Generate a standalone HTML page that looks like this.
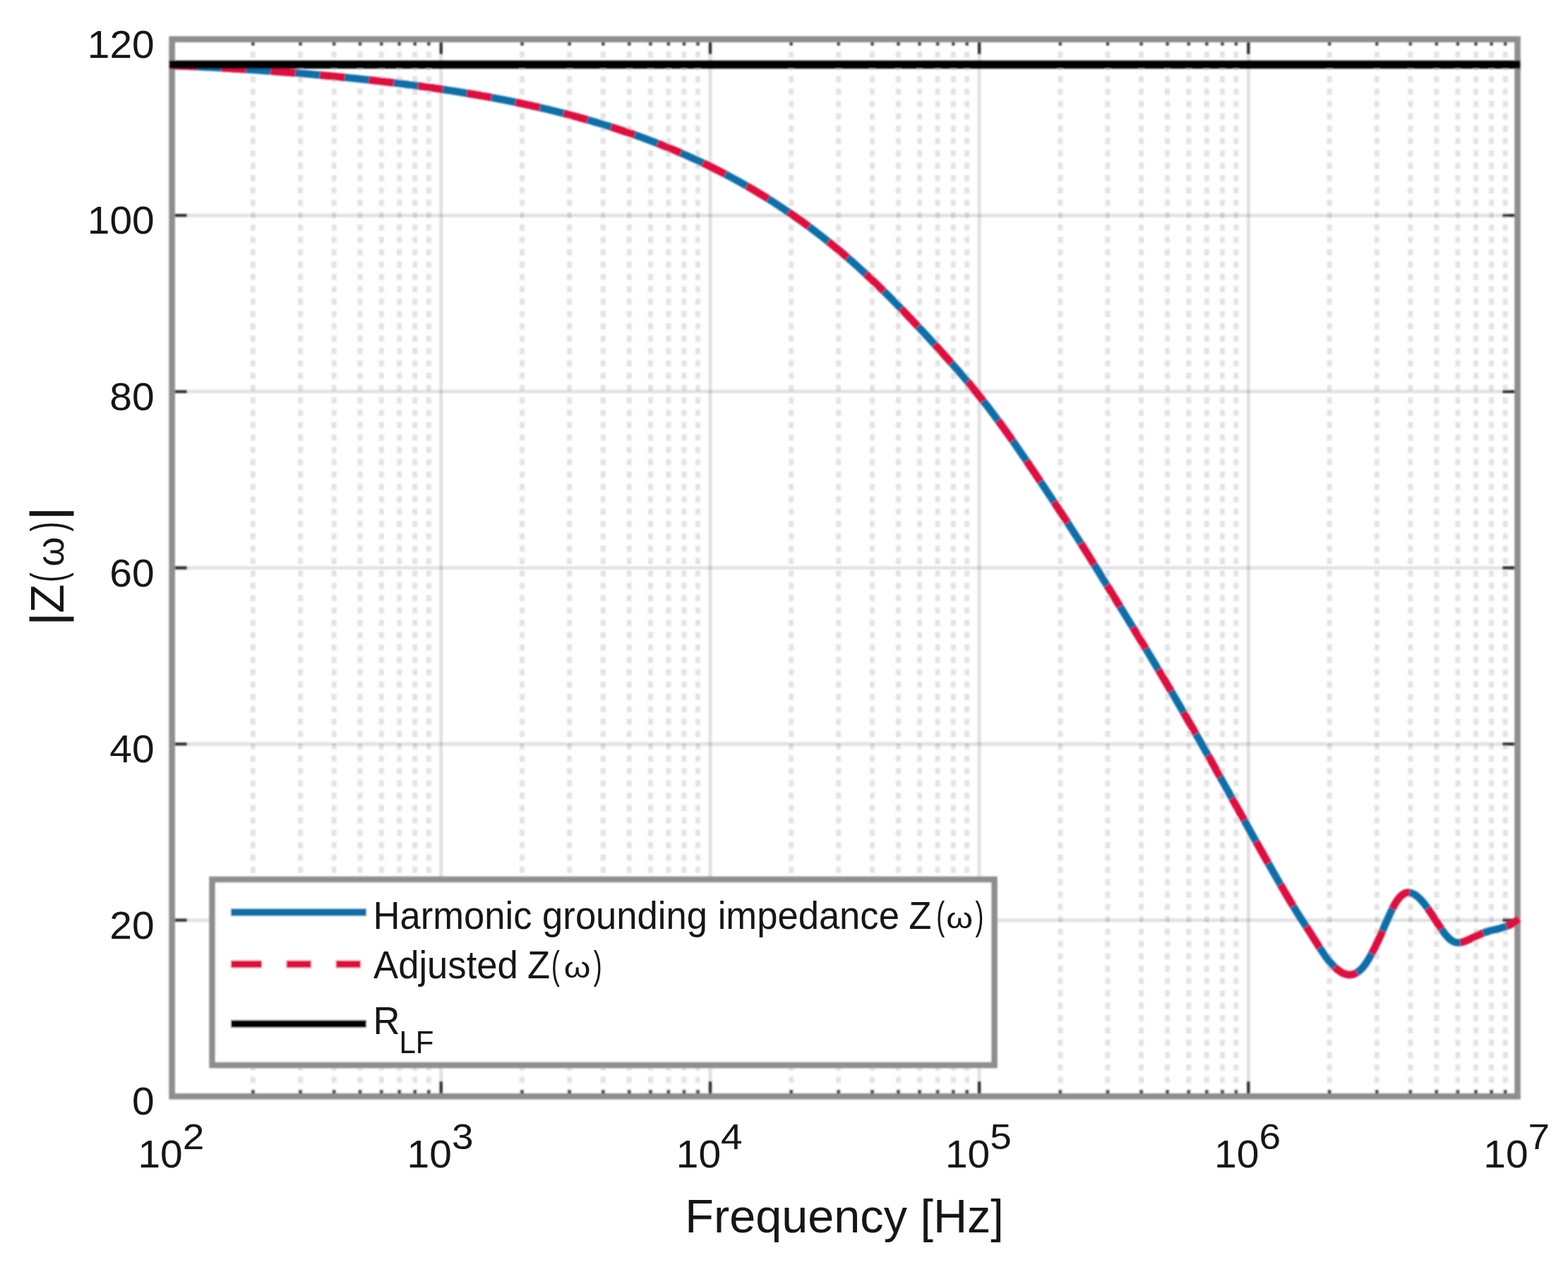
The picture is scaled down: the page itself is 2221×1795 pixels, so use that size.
<!DOCTYPE html><html><head><meta charset="utf-8"><title>|Z(ω)| vs frequency</title><style>html,body{margin:0;padding:0;background:#fff;overflow:hidden}svg{display:block}text{font-family:"Liberation Sans",Arial,sans-serif;fill:#141414}</style></head><body>
<svg width="2221" height="1795" viewBox="0 0 2221 1795">
<defs><filter id="soft" filterUnits="userSpaceOnUse" x="0" y="0" width="2221" height="1795"><feGaussianBlur stdDeviation="1.2"/></filter><filter id="softt" filterUnits="userSpaceOnUse" x="0" y="0" width="2221" height="1795"><feGaussianBlur stdDeviation="0.5"/></filter>
<clipPath id="c"><rect x="239.6" y="51.6" width="1913.9" height="1505.7"/></clipPath></defs>
<rect width="2221" height="1795" fill="#fff"/>
<g filter="url(#soft)">
<path d="M358.3 55.6V1553.3M425.5 55.6V1553.3M473.1 55.6V1553.3M510.0 55.6V1553.3M540.2 55.6V1553.3M565.7 55.6V1553.3M587.8 55.6V1553.3M607.3 55.6V1553.3M739.5 55.6V1553.3M806.6 55.6V1553.3M854.3 55.6V1553.3M891.2 55.6V1553.3M921.4 55.6V1553.3M946.9 55.6V1553.3M969.0 55.6V1553.3M988.5 55.6V1553.3M1120.7 55.6V1553.3M1187.8 55.6V1553.3M1235.5 55.6V1553.3M1272.4 55.6V1553.3M1302.6 55.6V1553.3M1328.1 55.6V1553.3M1350.2 55.6V1553.3M1369.7 55.6V1553.3M1501.9 55.6V1553.3M1569.0 55.6V1553.3M1616.6 55.6V1553.3M1653.6 55.6V1553.3M1683.8 55.6V1553.3M1709.3 55.6V1553.3M1731.4 55.6V1553.3M1750.9 55.6V1553.3M1883.1 55.6V1553.3M1950.2 55.6V1553.3M1997.8 55.6V1553.3M2034.8 55.6V1553.3M2064.9 55.6V1553.3M2090.5 55.6V1553.3M2112.6 55.6V1553.3M2132.1 55.6V1553.3" stroke="#e3e3e3" stroke-width="7" stroke-dasharray="8.6 8.9" fill="none"/>
<g stroke="#262626" stroke-opacity="0.15" stroke-width="4.6" fill="none"><path d="M624.8 55.6V1553.3"/><path d="M1006.0 55.6V1553.3"/><path d="M1387.1 55.6V1553.3"/><path d="M1768.3 55.6V1553.3"/><path d="M243.6 1303.7H2149.5"/><path d="M243.6 1054.1H2149.5"/><path d="M243.6 804.5H2149.5"/><path d="M243.6 554.8H2149.5"/><path d="M243.6 305.2H2149.5"/></g>
<rect x="243.6" y="55.6" width="1905.9" height="1497.7" fill="none" stroke="#8e8e8e" stroke-width="8.6"/>
<path d="M624.8 1549.0V1532.3M624.8 59.9V76.6M1006.0 1549.0V1532.3M1006.0 59.9V76.6M1387.1 1549.0V1532.3M1387.1 59.9V76.6M1768.3 1549.0V1532.3M1768.3 59.9V76.6M358.3 1549.0V1544.3M358.3 59.9V64.6M425.5 1549.0V1544.3M425.5 59.9V64.6M473.1 1549.0V1544.3M473.1 59.9V64.6M510.0 1549.0V1544.3M510.0 59.9V64.6M540.2 1549.0V1544.3M540.2 59.9V64.6M565.7 1549.0V1544.3M565.7 59.9V64.6M587.8 1549.0V1544.3M587.8 59.9V64.6M607.3 1549.0V1544.3M607.3 59.9V64.6M739.5 1549.0V1544.3M739.5 59.9V64.6M806.6 1549.0V1544.3M806.6 59.9V64.6M854.3 1549.0V1544.3M854.3 59.9V64.6M891.2 1549.0V1544.3M891.2 59.9V64.6M921.4 1549.0V1544.3M921.4 59.9V64.6M946.9 1549.0V1544.3M946.9 59.9V64.6M969.0 1549.0V1544.3M969.0 59.9V64.6M988.5 1549.0V1544.3M988.5 59.9V64.6M1120.7 1549.0V1544.3M1120.7 59.9V64.6M1187.8 1549.0V1544.3M1187.8 59.9V64.6M1235.5 1549.0V1544.3M1235.5 59.9V64.6M1272.4 1549.0V1544.3M1272.4 59.9V64.6M1302.6 1549.0V1544.3M1302.6 59.9V64.6M1328.1 1549.0V1544.3M1328.1 59.9V64.6M1350.2 1549.0V1544.3M1350.2 59.9V64.6M1369.7 1549.0V1544.3M1369.7 59.9V64.6M1501.9 1549.0V1544.3M1501.9 59.9V64.6M1569.0 1549.0V1544.3M1569.0 59.9V64.6M1616.6 1549.0V1544.3M1616.6 59.9V64.6M1653.6 1549.0V1544.3M1653.6 59.9V64.6M1683.8 1549.0V1544.3M1683.8 59.9V64.6M1709.3 1549.0V1544.3M1709.3 59.9V64.6M1731.4 1549.0V1544.3M1731.4 59.9V64.6M1750.9 1549.0V1544.3M1750.9 59.9V64.6M1883.1 1549.0V1544.3M1883.1 59.9V64.6M1950.2 1549.0V1544.3M1950.2 59.9V64.6M1997.8 1549.0V1544.3M1997.8 59.9V64.6M2034.8 1549.0V1544.3M2034.8 59.9V64.6M2064.9 1549.0V1544.3M2064.9 59.9V64.6M2090.5 1549.0V1544.3M2090.5 59.9V64.6M2112.6 1549.0V1544.3M2112.6 59.9V64.6M2132.1 1549.0V1544.3M2132.1 59.9V64.6M247.9 1303.7H264.6M2145.2 1303.7H2128.5M247.9 1054.1H264.6M2145.2 1054.1H2128.5M247.9 804.5H264.6M2145.2 804.5H2128.5M247.9 554.8H264.6M2145.2 554.8H2128.5M247.9 305.2H264.6M2145.2 305.2H2128.5" stroke="#333" stroke-width="4.3" fill="none"/>
<g clip-path="url(#c)" fill="none" stroke-width="10.5">
<path d="M243.6,92.8 L246.6,92.9 L249.6,93.0 L252.6,93.2 L255.6,93.3 L258.6,93.4 L261.6,93.6 L264.6,93.7 L267.6,93.8 L270.6,94.0 L273.6,94.1 L276.6,94.3 L279.6,94.4 L282.6,94.5 L285.6,94.7 L288.6,94.9 L291.6,95.0 L294.6,95.2 L297.6,95.3 L300.6,95.5 L303.6,95.6 L306.6,95.8 L309.6,96.0 L312.6,96.1 L315.6,96.3 L318.6,96.5 L321.6,96.7 L324.6,96.8 L327.6,97.0 L330.6,97.2 L333.6,97.4 L336.6,97.6 L339.6,97.8 L342.6,97.9 L345.6,98.1 L348.6,98.3 L351.6,98.5 L354.6,98.7 L357.6,98.9 L360.6,99.1 L363.6,99.3 L366.6,99.5 L369.6,99.7 L372.6,99.9 L375.6,100.2 L378.6,100.4 L381.6,100.6 L384.6,100.8 L387.6,101.0 L390.6,101.2 L393.6,101.5 L396.6,101.7 L399.6,101.9 L402.6,102.2 L405.6,102.4 L408.6,102.6 L411.6,102.9 L414.6,103.1 L417.6,103.3 L420.6,103.6 L423.6,103.8 L426.6,104.1 L429.6,104.3 L432.6,104.6 L435.6,104.8 L438.6,105.1 L441.6,105.3 L444.6,105.6 L447.6,105.9 L450.6,106.1 L453.6,106.4 L456.6,106.7 L459.6,106.9 L462.6,107.2 L465.6,107.5 L468.6,107.8 L471.6,108.1 L474.6,108.3 L477.6,108.6 L480.6,108.9 L483.6,109.2 L486.6,109.5 L489.6,109.8 L492.6,110.1 L495.6,110.4 L498.6,110.7 L501.6,111.0 L504.6,111.3 L507.6,111.6 L510.6,112.0 L513.6,112.3 L516.6,112.6 L519.6,112.9 L522.6,113.3 L525.6,113.6 L528.6,113.9 L531.6,114.3 L534.6,114.6 L537.6,114.9 L540.6,115.3 L543.6,115.6 L546.6,116.0 L549.6,116.3 L552.6,116.7 L555.6,117.0 L558.6,117.4 L561.6,117.8 L564.6,118.1 L567.6,118.5 L570.6,118.9 L573.6,119.3 L576.6,119.7 L579.6,120.1 L582.6,120.4 L585.6,120.8 L588.6,121.2 L591.6,121.6 L594.6,122.0 L597.6,122.4 L600.6,122.9 L603.6,123.3 L606.6,123.7 L609.6,124.1 L612.6,124.5 L615.6,125.0 L618.6,125.4 L621.6,125.9 L624.6,126.3 L627.6,126.7 L630.6,127.2 L633.6,127.7 L636.6,128.1 L639.6,128.6 L642.6,129.0 L645.6,129.5 L648.6,130.0 L651.6,130.5 L654.6,131.0 L657.6,131.5 L660.6,132.0 L663.6,132.5 L666.6,133.0 L669.6,133.5 L672.6,134.0 L675.6,134.5 L678.6,135.0 L681.6,135.6 L684.6,136.1 L687.6,136.6 L690.6,137.2 L693.6,137.7 L696.6,138.3 L699.6,138.8 L702.6,139.4 L705.6,140.0 L708.6,140.5 L711.6,141.1 L714.6,141.7 L717.6,142.3 L720.6,142.9 L723.6,143.5 L726.6,144.1 L729.6,144.7 L732.6,145.4 L735.6,146.0 L738.6,146.6 L741.6,147.3 L744.6,147.9 L747.6,148.6 L750.6,149.2 L753.6,149.9 L756.6,150.6 L759.6,151.2 L762.6,151.9 L765.6,152.6 L768.6,153.3 L771.6,154.0 L774.6,154.7 L777.6,155.4 L780.6,156.2 L783.6,156.9 L786.6,157.6 L789.6,158.4 L792.6,159.1 L795.6,159.9 L798.6,160.7 L801.6,161.4 L804.6,162.2 L807.6,163.0 L810.6,163.8 L813.6,164.6 L816.6,165.4 L819.6,166.2 L822.6,167.1 L825.6,167.9 L828.6,168.7 L831.6,169.6 L834.6,170.5 L837.6,171.3 L840.6,172.2 L843.6,173.1 L846.6,174.0 L849.6,174.9 L852.6,175.8 L855.6,176.7 L858.6,177.7 L861.6,178.6 L864.6,179.5 L867.6,180.5 L870.6,181.5 L873.6,182.4 L876.6,183.4 L879.6,184.4 L882.6,185.4 L885.6,186.4 L888.6,187.4 L891.6,188.5 L894.6,189.5 L897.6,190.6 L900.6,191.6 L903.6,192.7 L906.6,193.8 L909.6,194.9 L912.6,196.0 L915.6,197.1 L918.6,198.2 L921.6,199.3 L924.6,200.5 L927.6,201.6 L930.6,202.8 L933.6,204.0 L936.6,205.2 L939.6,206.4 L942.6,207.6 L945.6,208.8 L948.6,210.0 L951.6,211.3 L954.6,212.5 L957.6,213.8 L960.6,215.1 L963.6,216.4 L966.6,217.7 L969.6,219.0 L972.6,220.3 L975.6,221.7 L978.6,223.0 L981.6,224.4 L984.6,225.7 L987.6,227.1 L990.6,228.5 L993.6,229.9 L996.6,231.4 L999.6,232.8 L1002.6,234.3 L1005.6,235.7 L1008.6,237.2 L1011.6,238.7 L1014.6,240.2 L1017.6,241.7 L1020.6,243.3 L1023.6,244.8 L1026.6,246.4 L1029.6,248.0 L1032.6,249.6 L1035.6,251.2 L1038.6,252.8 L1041.6,254.4 L1044.6,256.1 L1047.6,257.7 L1050.6,259.4 L1053.6,261.1 L1056.6,262.8 L1059.6,264.5 L1062.6,266.3 L1065.6,268.0 L1068.6,269.8 L1071.6,271.6 L1074.6,273.4 L1077.6,275.2 L1080.6,277.0 L1083.6,278.9 L1086.6,280.7 L1089.6,282.6 L1092.6,284.5 L1095.6,286.4 L1098.6,288.4 L1101.6,290.3 L1104.6,292.3 L1107.6,294.3 L1110.6,296.3 L1113.6,298.3 L1116.6,300.3 L1119.6,302.4 L1122.6,304.5 L1125.6,306.6 L1128.6,308.7 L1131.6,310.8 L1134.6,312.9 L1137.6,315.1 L1140.6,317.3 L1143.6,319.5 L1146.6,321.7 L1149.6,324.0 L1152.6,326.2 L1155.6,328.5 L1158.6,330.8 L1161.6,333.1 L1164.6,335.4 L1167.6,337.8 L1170.6,340.2 L1173.6,342.6 L1176.6,345.0 L1179.6,347.4 L1182.6,349.9 L1185.6,352.4 L1188.6,354.9 L1191.6,357.4 L1194.6,359.9 L1197.6,362.5 L1200.6,365.1 L1203.6,367.7 L1206.6,370.3 L1209.6,373.0 L1212.6,375.7 L1215.6,378.4 L1218.6,381.1 L1221.6,383.8 L1224.6,386.6 L1227.6,389.4 L1230.6,392.2 L1233.6,395.0 L1236.6,397.8 L1239.6,400.7 L1242.6,403.6 L1245.6,406.5 L1248.6,409.4 L1251.6,412.4 L1254.6,415.3 L1257.6,418.3 L1260.6,421.3 L1263.6,424.3 L1266.6,427.4 L1269.6,430.4 L1272.6,433.5 L1275.6,436.6 L1278.6,439.7 L1281.6,442.8 L1284.6,445.9 L1287.6,449.1 L1290.6,452.2 L1293.6,455.4 L1296.6,458.6 L1299.6,461.8 L1302.6,465.0 L1305.6,468.2 L1308.6,471.4 L1311.6,474.6 L1314.6,477.9 L1317.6,481.1 L1320.6,484.4 L1323.6,487.6 L1326.6,490.9 L1329.6,494.2 L1332.6,497.5 L1335.6,500.8 L1338.6,504.2 L1341.6,507.5 L1344.6,510.9 L1347.6,514.2 L1350.6,517.6 L1353.6,521.1 L1356.6,524.5 L1359.6,528.0 L1362.6,531.4 L1365.6,534.9 L1368.6,538.5 L1371.6,542.0 L1374.6,545.6 L1377.6,549.3 L1380.6,552.9 L1383.6,556.6 L1386.6,560.4 L1389.6,564.1 L1392.6,567.9 L1395.6,571.8 L1398.6,575.6 L1401.6,579.5 L1404.6,583.5 L1407.6,587.5 L1410.6,591.5 L1413.6,595.6 L1416.6,599.6 L1419.6,603.8 L1422.6,607.9 L1425.6,612.1 L1428.6,616.3 L1431.6,620.6 L1434.6,624.8 L1437.6,629.1 L1440.6,633.5 L1443.6,637.8 L1446.6,642.2 L1449.6,646.5 L1452.6,650.9 L1455.6,655.3 L1458.6,659.8 L1461.6,664.2 L1464.6,668.7 L1467.6,673.1 L1470.6,677.6 L1473.6,682.1 L1476.6,686.6 L1479.6,691.1 L1482.6,695.6 L1485.6,700.1 L1488.6,704.6 L1491.6,709.2 L1494.6,713.7 L1497.6,718.3 L1500.6,722.8 L1503.6,727.4 L1506.6,732.0 L1509.6,736.6 L1512.6,741.2 L1515.6,745.8 L1518.6,750.5 L1521.6,755.1 L1524.6,759.8 L1527.6,764.5 L1530.6,769.2 L1533.6,773.9 L1536.6,778.7 L1539.6,783.5 L1542.6,788.2 L1545.6,793.0 L1548.6,797.9 L1551.6,802.7 L1554.6,807.6 L1557.6,812.4 L1560.6,817.3 L1563.6,822.2 L1566.6,827.0 L1569.6,831.9 L1572.6,836.8 L1575.6,841.7 L1578.6,846.6 L1581.6,851.4 L1584.6,856.3 L1587.6,861.2 L1590.6,866.1 L1593.6,871.0 L1596.6,875.8 L1599.6,880.7 L1602.6,885.6 L1605.6,890.5 L1608.6,895.4 L1611.6,900.4 L1614.6,905.3 L1617.6,910.2 L1620.6,915.2 L1623.6,920.1 L1626.6,925.1 L1629.6,930.1 L1632.6,935.0 L1635.6,940.0 L1638.6,945.1 L1641.6,950.1 L1644.6,955.1 L1647.6,960.2 L1650.6,965.2 L1653.6,970.3 L1656.6,975.4 L1659.6,980.5 L1662.6,985.6 L1665.6,990.7 L1668.6,995.9 L1671.6,1001.0 L1674.6,1006.2 L1677.6,1011.4 L1680.6,1016.6 L1683.6,1021.8 L1686.6,1027.0 L1689.6,1032.2 L1692.6,1037.5 L1695.6,1042.8 L1698.6,1048.0 L1701.6,1053.3 L1704.6,1058.6 L1707.6,1063.9 L1710.6,1069.3 L1713.6,1074.6 L1716.6,1079.9 L1719.6,1085.3 L1722.6,1090.6 L1725.6,1096.0 L1728.6,1101.4 L1731.6,1106.8 L1734.6,1112.2 L1737.6,1117.5 L1740.6,1122.9 L1743.6,1128.3 L1746.6,1133.8 L1749.6,1139.2 L1752.6,1144.6 L1755.6,1150.0 L1758.6,1155.4 L1761.6,1160.8 L1764.6,1166.2 L1767.6,1171.6 L1770.6,1177.0 L1773.6,1182.4 L1776.6,1187.8 L1779.6,1193.1 L1782.6,1198.5 L1785.6,1203.9 L1788.6,1209.2 L1791.6,1214.5 L1794.6,1219.8 L1797.6,1225.1 L1800.6,1230.4 L1803.6,1235.7 L1806.6,1240.9 L1809.6,1246.1 L1812.6,1251.3 L1815.6,1256.5 L1818.6,1261.6 L1821.6,1266.8 L1824.6,1271.8 L1827.6,1276.9 L1830.6,1281.9 L1833.6,1286.8 L1836.6,1291.7 L1839.6,1296.5 L1842.6,1301.1 L1845.6,1305.8 L1848.6,1310.3 L1851.6,1314.9 L1854.6,1319.5 L1857.6,1324.2 L1860.6,1329.0 L1863.6,1333.8 L1866.6,1338.5 L1869.6,1343.2 L1872.6,1347.7 L1875.6,1352.1 L1878.6,1356.3 L1881.6,1360.2 L1884.6,1363.9 L1887.6,1367.2 L1890.6,1370.3 L1893.6,1373.0 L1896.6,1375.3 L1899.6,1377.3 L1902.6,1378.9 L1905.6,1380.0 L1908.6,1380.7 L1911.6,1381.0 L1914.6,1380.7 L1917.6,1380.0 L1920.6,1378.7 L1923.6,1376.8 L1926.6,1374.4 L1929.6,1371.4 L1932.6,1367.7 L1935.6,1363.5 L1938.6,1358.8 L1941.6,1353.6 L1944.6,1348.0 L1947.6,1342.0 L1950.6,1335.7 L1953.6,1329.2 L1956.6,1322.5 L1959.6,1315.7 L1962.6,1308.7 L1965.6,1301.8 L1968.6,1295.1 L1971.6,1288.7 L1974.6,1282.9 L1977.6,1277.7 L1980.6,1273.4 L1983.6,1270.0 L1986.6,1267.5 L1989.6,1265.7 L1992.6,1264.8 L1995.6,1264.6 L1998.6,1265.1 L2001.6,1266.2 L2004.6,1267.8 L2007.6,1270.0 L2010.6,1272.7 L2013.6,1275.8 L2016.6,1279.3 L2019.6,1283.1 L2022.6,1287.2 L2025.6,1291.6 L2028.6,1296.1 L2031.6,1300.8 L2034.6,1305.5 L2037.6,1310.2 L2040.6,1314.7 L2043.6,1319.0 L2046.6,1323.0 L2049.6,1326.5 L2052.6,1329.6 L2055.6,1332.1 L2058.6,1333.9 L2061.6,1335.1 L2064.6,1335.5 L2067.6,1335.5 L2070.6,1335.0 L2073.6,1334.1 L2076.6,1333.0 L2079.6,1331.6 L2082.6,1330.2 L2085.6,1328.8 L2088.6,1327.3 L2091.6,1325.8 L2094.6,1324.4 L2097.6,1323.1 L2100.6,1321.9 L2103.6,1320.8 L2106.6,1319.9 L2109.6,1319.0 L2112.6,1318.2 L2115.6,1317.5 L2118.6,1316.8 L2121.6,1316.1 L2124.6,1315.3 L2127.6,1314.4 L2130.6,1313.5 L2133.6,1312.4 L2136.6,1311.1 L2139.6,1309.7 L2142.6,1308.1 L2145.6,1306.2 L2148.6,1304.0 L2151.6,1301.6" stroke="#0f6ea8"/>
<path d="M243.6,92.8 L246.6,92.9 L249.6,93.0 L252.6,93.2 L255.6,93.3 L258.6,93.4 L261.6,93.6 L264.6,93.7 L267.6,93.8 L270.6,94.0 L273.6,94.1 L276.6,94.3 L279.6,94.4 L282.6,94.5 L285.6,94.7 L288.6,94.9 L291.6,95.0 L294.6,95.2 L297.6,95.3 L300.6,95.5 L303.6,95.6 L306.6,95.8 L309.6,96.0 L312.6,96.1 L315.6,96.3 L318.6,96.5 L321.6,96.7 L324.6,96.8 L327.6,97.0 L330.6,97.2 L333.6,97.4 L336.6,97.6 L339.6,97.8 L342.6,97.9 L345.6,98.1 L348.6,98.3 L351.6,98.5 L354.6,98.7 L357.6,98.9 L360.6,99.1 L363.6,99.3 L366.6,99.5 L369.6,99.7 L372.6,99.9 L375.6,100.2 L378.6,100.4 L381.6,100.6 L384.6,100.8 L387.6,101.0 L390.6,101.2 L393.6,101.5 L396.6,101.7 L399.6,101.9 L402.6,102.2 L405.6,102.4 L408.6,102.6 L411.6,102.9 L414.6,103.1 L417.6,103.3 L420.6,103.6 L423.6,103.8 L426.6,104.1 L429.6,104.3 L432.6,104.6 L435.6,104.8 L438.6,105.1 L441.6,105.3 L444.6,105.6 L447.6,105.9 L450.6,106.1 L453.6,106.4 L456.6,106.7 L459.6,106.9 L462.6,107.2 L465.6,107.5 L468.6,107.8 L471.6,108.1 L474.6,108.3 L477.6,108.6 L480.6,108.9 L483.6,109.2 L486.6,109.5 L489.6,109.8 L492.6,110.1 L495.6,110.4 L498.6,110.7 L501.6,111.0 L504.6,111.3 L507.6,111.6 L510.6,112.0 L513.6,112.3 L516.6,112.6 L519.6,112.9 L522.6,113.3 L525.6,113.6 L528.6,113.9 L531.6,114.3 L534.6,114.6 L537.6,114.9 L540.6,115.3 L543.6,115.6 L546.6,116.0 L549.6,116.3 L552.6,116.7 L555.6,117.0 L558.6,117.4 L561.6,117.8 L564.6,118.1 L567.6,118.5 L570.6,118.9 L573.6,119.3 L576.6,119.7 L579.6,120.1 L582.6,120.4 L585.6,120.8 L588.6,121.2 L591.6,121.6 L594.6,122.0 L597.6,122.4 L600.6,122.9 L603.6,123.3 L606.6,123.7 L609.6,124.1 L612.6,124.5 L615.6,125.0 L618.6,125.4 L621.6,125.9 L624.6,126.3 L627.6,126.7 L630.6,127.2 L633.6,127.7 L636.6,128.1 L639.6,128.6 L642.6,129.0 L645.6,129.5 L648.6,130.0 L651.6,130.5 L654.6,131.0 L657.6,131.5 L660.6,132.0 L663.6,132.5 L666.6,133.0 L669.6,133.5 L672.6,134.0 L675.6,134.5 L678.6,135.0 L681.6,135.6 L684.6,136.1 L687.6,136.6 L690.6,137.2 L693.6,137.7 L696.6,138.3 L699.6,138.8 L702.6,139.4 L705.6,140.0 L708.6,140.5 L711.6,141.1 L714.6,141.7 L717.6,142.3 L720.6,142.9 L723.6,143.5 L726.6,144.1 L729.6,144.7 L732.6,145.4 L735.6,146.0 L738.6,146.6 L741.6,147.3 L744.6,147.9 L747.6,148.6 L750.6,149.2 L753.6,149.9 L756.6,150.6 L759.6,151.2 L762.6,151.9 L765.6,152.6 L768.6,153.3 L771.6,154.0 L774.6,154.7 L777.6,155.4 L780.6,156.2 L783.6,156.9 L786.6,157.6 L789.6,158.4 L792.6,159.1 L795.6,159.9 L798.6,160.7 L801.6,161.4 L804.6,162.2 L807.6,163.0 L810.6,163.8 L813.6,164.6 L816.6,165.4 L819.6,166.2 L822.6,167.1 L825.6,167.9 L828.6,168.7 L831.6,169.6 L834.6,170.5 L837.6,171.3 L840.6,172.2 L843.6,173.1 L846.6,174.0 L849.6,174.9 L852.6,175.8 L855.6,176.7 L858.6,177.7 L861.6,178.6 L864.6,179.5 L867.6,180.5 L870.6,181.5 L873.6,182.4 L876.6,183.4 L879.6,184.4 L882.6,185.4 L885.6,186.4 L888.6,187.4 L891.6,188.5 L894.6,189.5 L897.6,190.6 L900.6,191.6 L903.6,192.7 L906.6,193.8 L909.6,194.9 L912.6,196.0 L915.6,197.1 L918.6,198.2 L921.6,199.3 L924.6,200.5 L927.6,201.6 L930.6,202.8 L933.6,204.0 L936.6,205.2 L939.6,206.4 L942.6,207.6 L945.6,208.8 L948.6,210.0 L951.6,211.3 L954.6,212.5 L957.6,213.8 L960.6,215.1 L963.6,216.4 L966.6,217.7 L969.6,219.0 L972.6,220.3 L975.6,221.7 L978.6,223.0 L981.6,224.4 L984.6,225.7 L987.6,227.1 L990.6,228.5 L993.6,229.9 L996.6,231.4 L999.6,232.8 L1002.6,234.3 L1005.6,235.7 L1008.6,237.2 L1011.6,238.7 L1014.6,240.2 L1017.6,241.7 L1020.6,243.3 L1023.6,244.8 L1026.6,246.4 L1029.6,248.0 L1032.6,249.6 L1035.6,251.2 L1038.6,252.8 L1041.6,254.4 L1044.6,256.1 L1047.6,257.7 L1050.6,259.4 L1053.6,261.1 L1056.6,262.8 L1059.6,264.5 L1062.6,266.3 L1065.6,268.0 L1068.6,269.8 L1071.6,271.6 L1074.6,273.4 L1077.6,275.2 L1080.6,277.0 L1083.6,278.9 L1086.6,280.7 L1089.6,282.6 L1092.6,284.5 L1095.6,286.4 L1098.6,288.4 L1101.6,290.3 L1104.6,292.3 L1107.6,294.3 L1110.6,296.3 L1113.6,298.3 L1116.6,300.3 L1119.6,302.4 L1122.6,304.5 L1125.6,306.6 L1128.6,308.7 L1131.6,310.8 L1134.6,312.9 L1137.6,315.1 L1140.6,317.3 L1143.6,319.5 L1146.6,321.7 L1149.6,324.0 L1152.6,326.2 L1155.6,328.5 L1158.6,330.8 L1161.6,333.1 L1164.6,335.4 L1167.6,337.8 L1170.6,340.2 L1173.6,342.6 L1176.6,345.0 L1179.6,347.4 L1182.6,349.9 L1185.6,352.4 L1188.6,354.9 L1191.6,357.4 L1194.6,359.9 L1197.6,362.5 L1200.6,365.1 L1203.6,367.7 L1206.6,370.3 L1209.6,373.0 L1212.6,375.7 L1215.6,378.4 L1218.6,381.1 L1221.6,383.8 L1224.6,386.6 L1227.6,389.4 L1230.6,392.2 L1233.6,395.0 L1236.6,397.8 L1239.6,400.7 L1242.6,403.6 L1245.6,406.5 L1248.6,409.4 L1251.6,412.4 L1254.6,415.3 L1257.6,418.3 L1260.6,421.3 L1263.6,424.3 L1266.6,427.4 L1269.6,430.4 L1272.6,433.5 L1275.6,436.6 L1278.6,439.7 L1281.6,442.8 L1284.6,445.9 L1287.6,449.1 L1290.6,452.2 L1293.6,455.4 L1296.6,458.6 L1299.6,461.8 L1302.6,465.0 L1305.6,468.2 L1308.6,471.4 L1311.6,474.6 L1314.6,477.9 L1317.6,481.1 L1320.6,484.4 L1323.6,487.6 L1326.6,490.9 L1329.6,494.2 L1332.6,497.5 L1335.6,500.8 L1338.6,504.2 L1341.6,507.5 L1344.6,510.9 L1347.6,514.2 L1350.6,517.6 L1353.6,521.1 L1356.6,524.5 L1359.6,528.0 L1362.6,531.4 L1365.6,534.9 L1368.6,538.5 L1371.6,542.0 L1374.6,545.6 L1377.6,549.3 L1380.6,552.9 L1383.6,556.6 L1386.6,560.4 L1389.6,564.1 L1392.6,567.9 L1395.6,571.8 L1398.6,575.6 L1401.6,579.5 L1404.6,583.5 L1407.6,587.5 L1410.6,591.5 L1413.6,595.6 L1416.6,599.6 L1419.6,603.8 L1422.6,607.9 L1425.6,612.1 L1428.6,616.3 L1431.6,620.6 L1434.6,624.8 L1437.6,629.1 L1440.6,633.5 L1443.6,637.8 L1446.6,642.2 L1449.6,646.5 L1452.6,650.9 L1455.6,655.3 L1458.6,659.8 L1461.6,664.2 L1464.6,668.7 L1467.6,673.1 L1470.6,677.6 L1473.6,682.1 L1476.6,686.6 L1479.6,691.1 L1482.6,695.6 L1485.6,700.1 L1488.6,704.6 L1491.6,709.2 L1494.6,713.7 L1497.6,718.3 L1500.6,722.8 L1503.6,727.4 L1506.6,732.0 L1509.6,736.6 L1512.6,741.2 L1515.6,745.8 L1518.6,750.5 L1521.6,755.1 L1524.6,759.8 L1527.6,764.5 L1530.6,769.2 L1533.6,773.9 L1536.6,778.7 L1539.6,783.5 L1542.6,788.2 L1545.6,793.0 L1548.6,797.9 L1551.6,802.7 L1554.6,807.6 L1557.6,812.4 L1560.6,817.3 L1563.6,822.2 L1566.6,827.0 L1569.6,831.9 L1572.6,836.8 L1575.6,841.7 L1578.6,846.6 L1581.6,851.4 L1584.6,856.3 L1587.6,861.2 L1590.6,866.1 L1593.6,871.0 L1596.6,875.8 L1599.6,880.7 L1602.6,885.6 L1605.6,890.5 L1608.6,895.4 L1611.6,900.4 L1614.6,905.3 L1617.6,910.2 L1620.6,915.2 L1623.6,920.1 L1626.6,925.1 L1629.6,930.1 L1632.6,935.0 L1635.6,940.0 L1638.6,945.1 L1641.6,950.1 L1644.6,955.1 L1647.6,960.2 L1650.6,965.2 L1653.6,970.3 L1656.6,975.4 L1659.6,980.5 L1662.6,985.6 L1665.6,990.7 L1668.6,995.9 L1671.6,1001.0 L1674.6,1006.2 L1677.6,1011.4 L1680.6,1016.6 L1683.6,1021.8 L1686.6,1027.0 L1689.6,1032.2 L1692.6,1037.5 L1695.6,1042.8 L1698.6,1048.0 L1701.6,1053.3 L1704.6,1058.6 L1707.6,1063.9 L1710.6,1069.3 L1713.6,1074.6 L1716.6,1079.9 L1719.6,1085.3 L1722.6,1090.6 L1725.6,1096.0 L1728.6,1101.4 L1731.6,1106.8 L1734.6,1112.2 L1737.6,1117.5 L1740.6,1122.9 L1743.6,1128.3 L1746.6,1133.8 L1749.6,1139.2 L1752.6,1144.6 L1755.6,1150.0 L1758.6,1155.4 L1761.6,1160.8 L1764.6,1166.2 L1767.6,1171.6 L1770.6,1177.0 L1773.6,1182.4 L1776.6,1187.8 L1779.6,1193.1 L1782.6,1198.5 L1785.6,1203.9 L1788.6,1209.2 L1791.6,1214.5 L1794.6,1219.8 L1797.6,1225.1 L1800.6,1230.4 L1803.6,1235.7 L1806.6,1240.9 L1809.6,1246.1 L1812.6,1251.3 L1815.6,1256.5 L1818.6,1261.6 L1821.6,1266.8 L1824.6,1271.8 L1827.6,1276.9 L1830.6,1281.9 L1833.6,1286.8 L1836.6,1291.7 L1839.6,1296.5 L1842.6,1301.1 L1845.6,1305.8 L1848.6,1310.3 L1851.6,1314.9 L1854.6,1319.5 L1857.6,1324.2 L1860.6,1329.0 L1863.6,1333.8 L1866.6,1338.5 L1869.6,1343.2 L1872.6,1347.7 L1875.6,1352.1 L1878.6,1356.3 L1881.6,1360.2 L1884.6,1363.9 L1887.6,1367.2 L1890.6,1370.3 L1893.6,1373.0 L1896.6,1375.3 L1899.6,1377.3 L1902.6,1378.9 L1905.6,1380.0 L1908.6,1380.7 L1911.6,1381.0 L1914.6,1380.7 L1917.6,1380.0 L1920.6,1378.7 L1923.6,1376.8 L1926.6,1374.4 L1929.6,1371.4 L1932.6,1367.7 L1935.6,1363.5 L1938.6,1358.8 L1941.6,1353.6 L1944.6,1348.0 L1947.6,1342.0 L1950.6,1335.7 L1953.6,1329.2 L1956.6,1322.5 L1959.6,1315.7 L1962.6,1308.7 L1965.6,1301.8 L1968.6,1295.1 L1971.6,1288.7 L1974.6,1282.9 L1977.6,1277.7 L1980.6,1273.4 L1983.6,1270.0 L1986.6,1267.5 L1989.6,1265.7 L1992.6,1264.8 L1995.6,1264.6 L1998.6,1265.1 L2001.6,1266.2 L2004.6,1267.8 L2007.6,1270.0 L2010.6,1272.7 L2013.6,1275.8 L2016.6,1279.3 L2019.6,1283.1 L2022.6,1287.2 L2025.6,1291.6 L2028.6,1296.1 L2031.6,1300.8 L2034.6,1305.5 L2037.6,1310.2 L2040.6,1314.7 L2043.6,1319.0 L2046.6,1323.0 L2049.6,1326.5 L2052.6,1329.6 L2055.6,1332.1 L2058.6,1333.9 L2061.6,1335.1 L2064.6,1335.5 L2067.6,1335.5 L2070.6,1335.0 L2073.6,1334.1 L2076.6,1333.0 L2079.6,1331.6 L2082.6,1330.2 L2085.6,1328.8 L2088.6,1327.3 L2091.6,1325.8 L2094.6,1324.4 L2097.6,1323.1 L2100.6,1321.9 L2103.6,1320.8 L2106.6,1319.9 L2109.6,1319.0 L2112.6,1318.2 L2115.6,1317.5 L2118.6,1316.8 L2121.6,1316.1 L2124.6,1315.3 L2127.6,1314.4 L2130.6,1313.5 L2133.6,1312.4 L2136.6,1311.1 L2139.6,1309.7 L2142.6,1308.1 L2145.6,1306.2 L2148.6,1304.0 L2151.6,1301.6" stroke="#e0103c" stroke-dasharray="35 35"/>
<path d="M239.3 91.5H2153.8" stroke="#000" stroke-width="11.5"/>
</g>
</g><g filter="url(#softt)">
<text transform="translate(218.7 1579.3) scale(1.035 1)" font-size="55" text-anchor="end">0</text>
<text transform="translate(218.7 1329.7) scale(1.035 1)" font-size="55" text-anchor="end">20</text>
<text transform="translate(218.7 1080.1) scale(1.035 1)" font-size="55" text-anchor="end">40</text>
<text transform="translate(218.7 830.5) scale(1.035 1)" font-size="55" text-anchor="end">60</text>
<text transform="translate(218.7 580.8) scale(1.035 1)" font-size="55" text-anchor="end">80</text>
<text transform="translate(218.7 331.2) scale(1.035 1)" font-size="55" text-anchor="end">100</text>
<text transform="translate(218.7 81.6) scale(1.035 1)" font-size="55" text-anchor="end">120</text>
<text transform="translate(195.4 1654) scale(1.035 1)" font-size="55">10</text><text transform="translate(258.7 1628) scale(1.1 1)" font-size="50">2</text>
<text transform="translate(576.6 1654) scale(1.035 1)" font-size="55">10</text><text transform="translate(639.9 1628) scale(1.1 1)" font-size="50">3</text>
<text transform="translate(957.8 1654) scale(1.035 1)" font-size="55">10</text><text transform="translate(1021.1 1628) scale(1.1 1)" font-size="50">4</text>
<text transform="translate(1338.9 1654) scale(1.035 1)" font-size="55">10</text><text transform="translate(1402.2 1628) scale(1.1 1)" font-size="50">5</text>
<text transform="translate(1720.1 1654) scale(1.035 1)" font-size="55">10</text><text transform="translate(1783.4 1628) scale(1.1 1)" font-size="50">6</text>
<text transform="translate(2101.3 1654) scale(1.035 1)" font-size="55">10</text><text transform="translate(2164.6 1628) scale(1.1 1)" font-size="50">7</text>
<text x="970.3" y="1746.3" font-size="66.6">Frequency [Hz]</text>
<text transform="translate(89.5 885.7) rotate(-90) scale(1.000 1)" font-size="67.0" stroke="#141414" stroke-width="1.0">|</text>
<text transform="translate(89.5 868.6) rotate(-90) scale(1.000 1)" font-size="67.0">Z</text>
<text transform="translate(89.5 825.1) rotate(-90) scale(0.620 1)" font-size="67.0">(</text>
<text transform="translate(89.5 802.7) rotate(-90) scale(1.000 1)" font-size="54.0">ω</text>
<text transform="translate(89.5 752.9) rotate(-90) scale(0.620 1)" font-size="67.0">)</text>
<text transform="translate(89.5 736.3) rotate(-90) scale(1.000 1)" font-size="67.0" stroke="#141414" stroke-width="1.0">|</text>
</g><g filter="url(#soft)">
<rect x="300.5" y="1246.0" width="1108.0" height="263.0" fill="#fff" stroke="#8e8e8e" stroke-width="8.6"/>
<g fill="none" stroke-width="10.5">
<path d="M327 1292.5H519" stroke="#0f6ea8"/>
<path d="M327 1366H519" stroke="#e0103c" stroke-dasharray="44 34.7 35.1 35 35.2 40"/>
<path d="M327 1450.5H519" stroke="#000"/>
</g>
</g><g filter="url(#softt)">
<text transform="translate(528.5 1316.0) scale(1.000 1.060)" font-size="52.6">Harmonic grounding impedance</text>
<text transform="translate(1287.3 1316.0) scale(1.000 1.060)" font-size="52.6">Z</text>
<text transform="translate(1326.2 1316.0) scale(0.680 1.060)" font-size="52.6">(</text>
<text transform="translate(1340.3 1315.4) scale(1.256 1.060)" font-size="38.6">ω</text>
<text transform="translate(1381.5 1316.0) scale(0.680 1.060)" font-size="52.6">)</text>
<text transform="translate(529.1 1385.5) scale(1.000 1.060)" font-size="52.6">Adjusted</text>
<text transform="translate(747.1 1385.5) scale(1.000 1.060)" font-size="52.6">Z</text>
<text transform="translate(780.9 1385.5) scale(0.680 1.060)" font-size="52.6">(</text>
<text transform="translate(798.7 1385.0) scale(1.256 1.060)" font-size="38.6">ω</text>
<text transform="translate(840.8 1385.5) scale(0.680 1.060)" font-size="52.6">)</text>
<text transform="translate(528.5 1465.4) scale(1.000 1.060)" font-size="52.6">R</text>
<text transform="translate(565.4 1492.4) scale(1.000 1.060)" font-size="42.0">LF</text>
</g></svg></body></html>
